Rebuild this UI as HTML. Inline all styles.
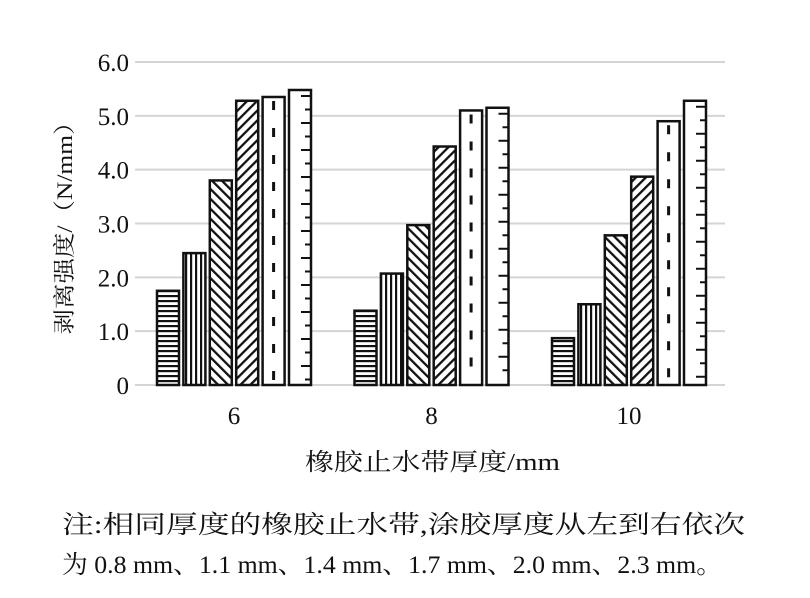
<!DOCTYPE html>
<html><head><meta charset="utf-8"><style>
body{margin:0;background:#fff;}
svg text{font-family:"Liberation Serif","Noto Serif CJK SC",serif;fill:#111;}
</style></head><body>
<svg width="810" height="593" viewBox="0 0 810 593">
<defs>
<pattern id="p0" width="6" height="5" patternUnits="userSpaceOnUse"><rect width="6" height="5" fill="#fff"/><rect y="0" width="6" height="2.2" fill="#111"/></pattern>
<pattern id="p1" width="5" height="6" patternUnits="userSpaceOnUse"><rect width="5" height="6" fill="#fff"/><rect x="0" width="2.2" height="6" fill="#111"/></pattern>
<pattern id="p2" width="7" height="7" patternUnits="userSpaceOnUse" patternTransform="rotate(-45)"><rect width="7" height="7" fill="#fff"/><rect width="2.3" height="7" fill="#111"/></pattern>
<pattern id="p3" width="7" height="7" patternUnits="userSpaceOnUse" patternTransform="rotate(45)"><rect width="7" height="7" fill="#fff"/><rect width="2.3" height="7" fill="#111"/></pattern>
</defs>
<g id="grid"></g>
<g id="bars"></g>
<g id="labels"></g>
<text x="72" y="222" font-size="22" text-anchor="middle" textLength="225" lengthAdjust="spacingAndGlyphs" transform="rotate(-90 72 222)">剥离强度/（N/mm）</text>
<text x="305" y="470" font-size="24" textLength="255" lengthAdjust="spacingAndGlyphs">橡胶止水带厚度/mm</text>
<text x="62" y="533" font-size="25" textLength="683" lengthAdjust="spacingAndGlyphs">注:相同厚度的橡胶止水带,涂胶厚度从左到右依次</text>
<text x="62" y="573" font-size="25" textLength="660" lengthAdjust="spacingAndGlyphs">为 0.8 mm、1.1 mm、1.4 mm、1.7 mm、2.0 mm、2.3 mm。</text>
</svg>
<script>
const categories=["6","8","10"];
const s1=[1.75,1.38,0.87];
const s2=[2.45,2.07,1.5];
const s3=[3.8,2.97,2.78];
const s4=[5.28,4.43,3.87];
const s5=[5.35,5.1,4.9];
const s6=[5.48,5.15,5.28];
const series=[s1,s2,s3,s4,s5,s6];
const yTicks=["0","1.0","2.0","3.0","4.0","5.0","6.0"];
const NS="http://www.w3.org/2000/svg";
const y0=385,yTop=62,yMax=6;
const y=v=>y0-(v/yMax)*(y0-yTop);
const x=i=>234+i*197.5;
const grid=document.getElementById('grid'),bars=document.getElementById('bars'),labels=document.getElementById('labels');
yTicks.forEach((t,i)=>{const v=parseFloat(t);
 const l=document.createElementNS(NS,'line');
 l.setAttribute('x1',135);l.setAttribute('x2',725);l.setAttribute('y1',y(v));l.setAttribute('y2',y(v));
 l.setAttribute('stroke','#d4d4d4');l.setAttribute('stroke-width',2);
 
 
 grid.appendChild(l);
 const tx=document.createElementNS(NS,'text');
 tx.setAttribute('x',129);tx.setAttribute('y',y(v)+9);tx.setAttribute('font-size',25);tx.setAttribute('text-anchor','end');
 tx.textContent=t;
 
 
 labels.appendChild(tx);
});
const bw=22,pitch=26.4;
categories.forEach((c,ci)=>{
 series.forEach((s,si)=>{
  const bx=x(ci)+(si-2.5)*pitch-bw/2;
  const r=document.createElementNS(NS,'rect');
  r.setAttribute('x',bx);r.setAttribute('y',y(s[ci]));r.setAttribute('width',bw);r.setAttribute('height',y0-y(s[ci]));
  r.setAttribute('fill',si<4?'url(#p'+si+')':'#fff');
  r.setAttribute('stroke','#111');r.setAttribute('stroke-width',2.5);
  
  
  bars.appendChild(r);
  if(si===4){const d=document.createElementNS(NS,'line');
   d.setAttribute('x1',bx+bw/2);d.setAttribute('x2',bx+bw/2);d.setAttribute('y1',y(s[ci])+4);d.setAttribute('y2',y0);
   d.setAttribute('stroke','#111');d.setAttribute('stroke-width',3);d.setAttribute('stroke-dasharray','9 18');
   
   
   bars.appendChild(d);}
  if(si===5){for(let yy=y(s[ci])+6;yy<y0-2;yy+=13.5){const t=document.createElementNS(NS,'line');
   const long=(Math.round((yy-y(s[ci]))/13.5)%2===0);
   t.setAttribute('x1',bx+bw-(long?10:6));t.setAttribute('x2',bx+bw);t.setAttribute('y1',yy);t.setAttribute('y2',yy);
   t.setAttribute('stroke','#111');t.setAttribute('stroke-width',2);
   
   
   bars.appendChild(t);}}
 });
 const tx=document.createElementNS(NS,'text');
 tx.setAttribute('x',x(ci));tx.setAttribute('y',424);tx.setAttribute('font-size',25);tx.setAttribute('text-anchor','middle');
 tx.textContent=c;
 
 
 labels.appendChild(tx);
});
</script>
</body></html>
